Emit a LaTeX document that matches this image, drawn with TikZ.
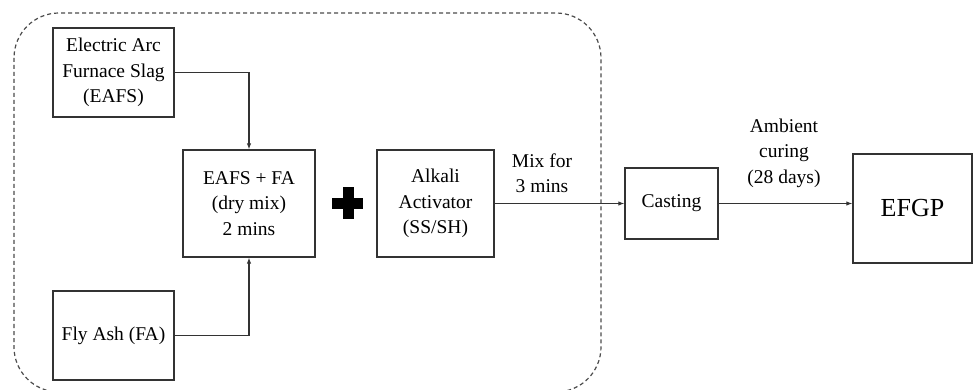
\documentclass[tikz,border=0pt]{standalone}
\usepackage{fontspec}
\setmainfont{Liberation Serif}
\newfontfamily\timesx{Liberation Serif}
\usetikzlibrary{arrows.meta}
\begin{document}
\begin{tikzpicture}[x=1pt,y=-1pt,
  boxnode/.style={draw=black!80,line width=1.3pt,rectangle,align=center,inner sep=0pt,
    font=\timesx\fontsize{19.5}{25.5}\selectfont},
  conn/.style={draw=black!80,line width=1.1pt,-{Latex[length=6pt,width=4.5pt]}},
  lbl/.style={align=center,inner sep=0pt,font=\timesx\fontsize{19.5}{25.5}\selectfont}]
\useasboundingbox (0,0) rectangle (975,390);
\draw[black!70,line width=1.2pt,dash pattern=on 4pt off 3pt,rounded corners=45pt]
  (14,13) rectangle (601,392);
\node[boxnode,minimum width=121pt,minimum height=89pt] (eafs) at (113.5,72.5) {Electric Arc\\Furnace Slag\\(EAFS)};
\node[boxnode,minimum width=121pt,minimum height=89pt] (fa) at (113.5,335.5) {Fly Ash (FA)};
\node[boxnode,minimum width=132pt,minimum height=107pt] (mix) at (249,203.5) {EAFS + FA\\(dry mix)\\2 mins};
\node[boxnode,minimum width=117pt,minimum height=107pt] (alk) at (435.5,203.5) {Alkali\\Activator\\(SS/SH)};
\node[boxnode,minimum width=93pt,minimum height=71pt] (cast) at (671.5,203.5) {Casting};
\node[boxnode,minimum width=119pt,minimum height=109pt,font=\timesx\fontsize{26}{30}\selectfont] (efgp) at (912.5,208.5) {EFGP};
\fill[black] (332,198) rectangle (363,209);
\fill[black] (343,187) rectangle (354,219);
\draw[conn] (eafs.east) -| (mix.north);
\draw[conn] (fa.east) -| (mix.south);
\draw[conn] (alk.east) -- (cast.west);
\draw[conn] (cast.east) -- (cast.east -| efgp.west);
\node[lbl] (mixlbl) at (542,173) {Mix for\\3 mins};
\node[lbl] (curelbl) at (784,153) {Ambient\\curing\\(28 days)};
\end{tikzpicture}
\end{document}
